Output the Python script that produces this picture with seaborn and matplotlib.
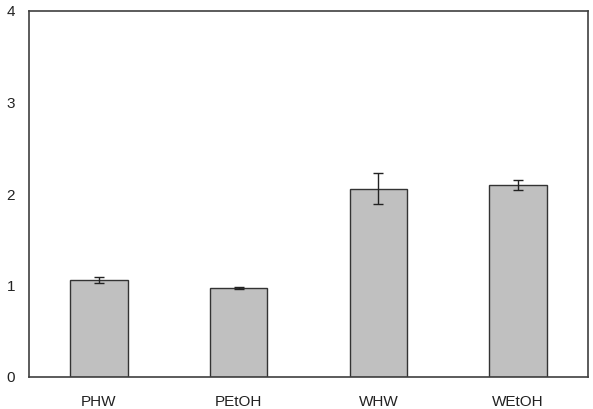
import matplotlib
matplotlib.use("Agg")
import matplotlib.pyplot as plt
import seaborn as sns
import pandas as pd
import numpy as np

categories = ["PHW", "PEtOH", "WHW", "WEtOH"]
values = [1.06, 0.97, 2.06, 2.10]
errors = [0.03, 0.01, 0.17, 0.055]

sns.set_style("white")
plt.rcParams['font.family'] = ['Liberation Sans', 'DejaVu Sans']

df = pd.DataFrame({"cat": categories, "val": values})

fig = plt.figure(figsize=(5.93, 4.09), dpi=100)
ax = fig.add_axes([29/593, 1 - 377/409, (588-29)/593, (377-11)/409])
sns.barplot(data=df, x="cat", y="val", order=categories, color="#c0c0c0",
            saturation=1, width=0.41, edgecolor="#333333", linewidth=1, ax=ax,
            errorbar=None)
ax.errorbar(np.arange(len(categories)), values, yerr=errors, fmt="none",
            ecolor="#222222", elinewidth=1, capsize=3.5, capthick=1)
ax.set_xlim(-0.5, 3.5)
ax.set_ylim(0, 4)
ax.set_yticks([0, 1, 2, 3, 4])
ax.set_xlabel("")
ax.set_ylabel("")
for s in ax.spines.values():
    s.set_color("#404040")
    s.set_linewidth(1.2)
    s.set_visible(True)
ax.tick_params(axis="both", length=0, labelsize=11, colors="#222222")
ax.tick_params(axis="y", pad=10)
ax.tick_params(axis="x", pad=13)
fig.savefig("out.png", dpi=100)
